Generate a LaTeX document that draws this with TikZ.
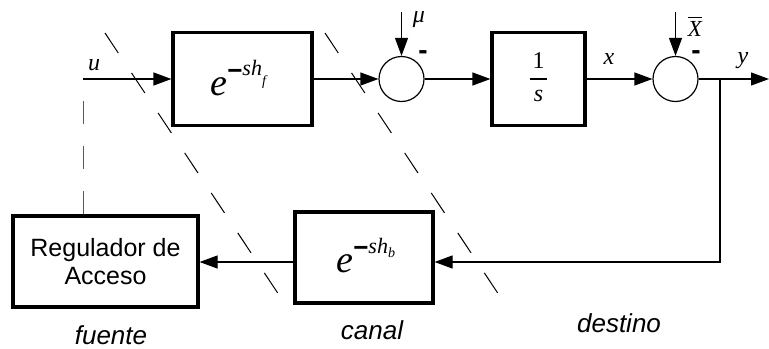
\documentclass[tikz,border=0pt]{standalone}
\usepackage{fontspec}
\usepackage{amsmath}
\setmainfont{Liberation Serif}
\setsansfont{Liberation Sans}
\usetikzlibrary{arrows.meta}
\begin{document}
\begin{tikzpicture}[x=0.5pt,y=-0.5pt,
  blk/.style={draw,line width=1.6pt,inner sep=0pt},
  sumc/.style={draw,circle,line width=0.6pt,minimum size=22.5pt,inner sep=0pt},
  sig/.style={line width=0.6pt,-{Triangle[length=9pt,width=6.5pt]}},
  lbl/.style={inner sep=0pt,font=\fontsize{12}{12}\selectfont\itshape},
  neg/.style={inner sep=0pt,font=\sffamily\bfseries\fontsize{14}{14}\selectfont},
  zone/.style={inner sep=0pt,font=\sffamily\itshape\fontsize{13}{13}\selectfont},
  sep/.style={line width=0.5pt,dash pattern=on 12pt off 12pt},
  vsep/.style={line width=0.5pt,black!65,dash pattern=on 11.5pt off 11pt,dash phase=11.5pt}
]
\useasboundingbox (0,0) rectangle (769,348);

% separators
\coordinate (d1a) at (105,33);
\coordinate (d1b) at (287,307);
\coordinate (d2a) at (325,33);
\coordinate (d2b) at (507,307);
\draw[sep] (d1a) -- (d1b);
\draw[sep] (d2a) -- (d2b);

% blocks
\coordinate (uin) at (83,79);
\node[blk,minimum width=69.5pt,minimum height=46.5pt] (bf) at (242.5,79) {};
\node[sumc] (c1) at (401.5,79) {};
\node[blk,minimum width=46.5pt,minimum height=46.5pt] (bs) at (538.5,79) {};
\node[sumc] (c2) at (675.5,79) {};
\coordinate (yout) at (769,79);
\coordinate (br) at (720,79);
\coordinate (fb) at (720,262);
\node[blk,minimum width=69pt,minimum height=45.5pt] (bb) at (364,257.5) {};
\node[blk,minimum width=92.5pt,minimum height=45.5pt,align=center,
  font=\sffamily\fontsize{12.5}{14}\selectfont] (reg) at (105.5,261.5) {Regulador de\\Acceso};
\coordinate (mu) at (401.5,12);
\coordinate (xb) at (675.5,12);

% block contents
\node[anchor=base west,inner sep=0pt] (ef) at (210,95)
  {{\fontsize{19}{19}\selectfont\itshape e}\raisebox{10pt}{\raisebox{-2.3pt}{\sffamily\bfseries\fontsize{13}{13}\selectfont −}\fontsize{11}{11}\selectfont\itshape sh\raisebox{-5pt}{\fontsize{7}{7}\selectfont\itshape f}}};
\node[anchor=base west,inner sep=0pt] (eb) at (336,272)
  {{\fontsize{19}{19}\selectfont\itshape e}\raisebox{9.5pt}{\raisebox{-1.5pt}{\sffamily\bfseries\fontsize{13}{13}\selectfont −}\fontsize{11}{11}\selectfont\itshape sh\raisebox{-2pt}{\fontsize{7}{7}\selectfont\itshape b}}};
\node[anchor=base,inner sep=0pt,font=\fontsize{12}{12}\selectfont] (fr) at (538.5,85)
  {$\genfrac{}{}{1pt}{0}{\mbox{\hspace{1.3pt}1\hspace{1.3pt}}}{\mbox{\itshape s}}$};

% connectors
\draw[sig] (uin) -- (bf.west);
\draw[sig] (bf.east) -- (c1.west);
\draw[sig] (c1.east) -- (bs.west);
\draw[sig] (bs.east) -- (c2.west);
\draw[sig] (c2.east) -- (yout);
\draw[sig] (mu) -- (c1.north);
\draw[sig] (xb) -- (c2.north);
\draw[sig] (br) -- (fb) -- (fb -| bb.east);
\draw[sig] (fb -| bb.west) -- (fb -| reg.east);
\draw[vsep] (uin) -- (uin |- reg.north);

% labels
\node[lbl] (lu) at (94,65) {u};
\node[lbl] (lmu) at (419,20) {μ};
\node[lbl] (lx) at (609,59) {x};
\node[lbl] (ly) at (743,61) {y};
\node[lbl,anchor=base,font=\fontsize{11.5}{11.5}\selectfont] (lX) at (695,36) {$\overline{\mbox{\itshape X}}$};
\node[neg] (m1) at (423,55) {-};
\node[neg] (m2) at (696,55) {-};

% zones
\node[zone] (zf) at (111,335) {fuente};
\node[zone] (zc) at (372,330) {canal};
\node[zone] (zd) at (619,323) {destino};
\end{tikzpicture}
\end{document}
